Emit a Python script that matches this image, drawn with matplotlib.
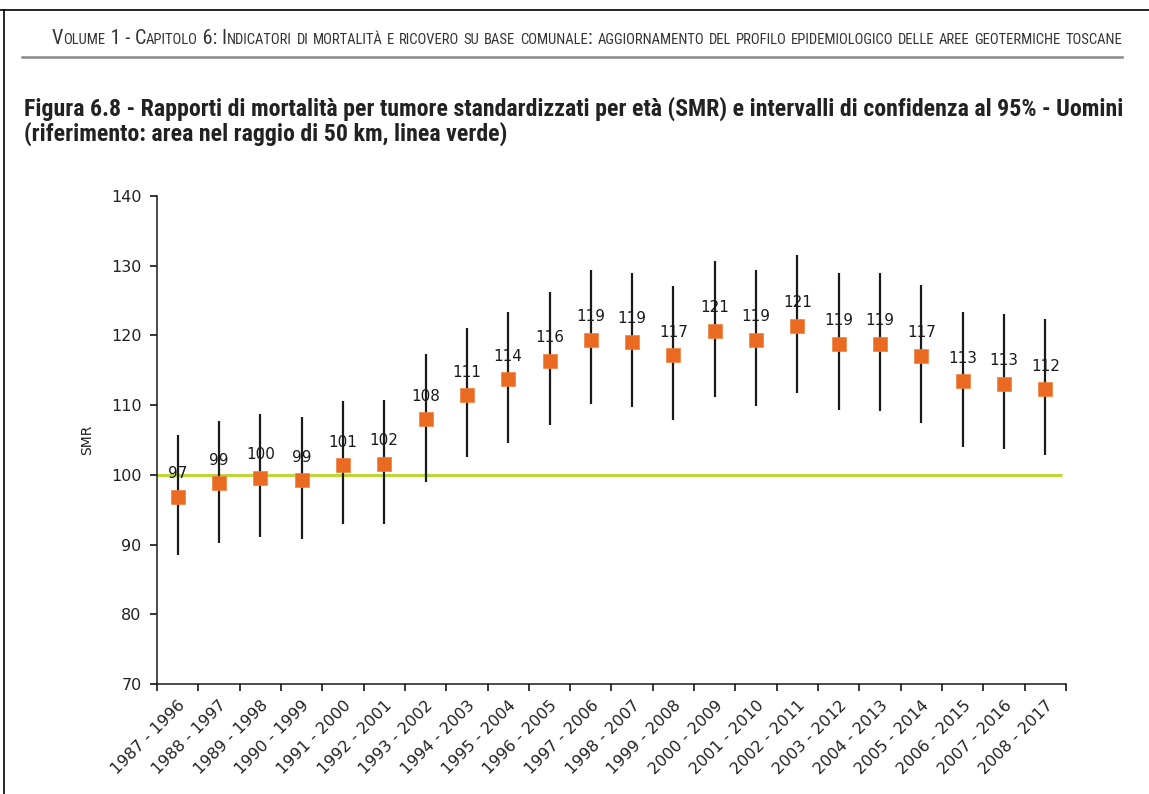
import matplotlib
matplotlib.use('Agg')
import matplotlib.pyplot as plt
import numpy as np
from matplotlib.offsetbox import TextArea, HPacker, AnchoredOffsetbox
from matplotlib.lines import Line2D
from matplotlib import font_manager

plt.rcParams['font.family'] = 'DejaVu Sans'
plt.rcParams['font.stretch'] = 'normal'

periods = ['1987 - 1996', '1988 - 1997', '1989 - 1998', '1990 - 1999', '1991 - 2000',
           '1992 - 2001', '1993 - 2002', '1994 - 2003', '1995 - 2004', '1996 - 2005',
           '1997 - 2006', '1998 - 2007', '1999 - 2008', '2000 - 2009', '2001 - 2010',
           '2002 - 2011', '2003 - 2012', '2004 - 2013', '2005 - 2014', '2006 - 2015',
           '2007 - 2016', '2008 - 2017']
smr = [96.9, 98.8, 99.6, 99.2, 101.4, 101.6, 108.0, 111.4, 113.7, 116.4, 119.4,
       119.1, 117.2, 120.7, 119.4, 121.4, 118.8, 118.8, 117.1, 113.4, 113.1, 112.3]
ci_low = [88.5, 90.3, 91.1, 90.8, 92.9, 93.0, 99.0, 102.5, 104.6, 107.2, 110.1,
          109.7, 107.9, 111.2, 109.9, 111.8, 109.3, 109.2, 107.5, 104.0, 103.7, 102.8]
ci_high = [105.7, 107.8, 108.7, 108.3, 110.6, 110.7, 117.4, 121.0, 123.4, 126.2, 129.4,
           129.0, 127.1, 130.7, 129.4, 131.6, 129.0, 129.0, 127.3, 123.4, 123.1, 122.3]
reference = 100

header = ("Volume 1 - Capitolo 6: Indicatori di mortalità e ricovero su base comunale: "
          "aggiornamento del profilo epidemiologico delle aree geotermiche toscane")
title = ("Figura 6.8 - Rapporti di mortalità per tumore standardizzati per età (SMR) e intervalli "
         "di confidenza al 95% - Uomini\n(riferimento: area nel raggio di 50 km, linea verde)")

# condensed face if there is one
names = set(f.name for f in font_manager.fontManager.ttflist)
narrow = 'DejaVu Sans'
for cand in ['Liberation Sans Narrow', 'Roboto Condensed', 'Open Sans Condensed', 'DejaVu Sans Condensed']:
    if cand in names:
        narrow = cand
        break

fig = plt.figure(figsize=(11.49, 7.94), dpi=100)
ax = fig.add_axes([0.1366, 0.1385, 0.7912, 0.6146])

x = np.arange(len(smr))
yerr = [np.array(smr) - np.array(ci_low), np.array(ci_high) - np.array(smr)]
ax.hlines(reference, -0.5, 21.4, color='#BED637', linewidth=2.2, zorder=1)
ax.errorbar(x, smr, yerr=yerr, fmt='none', ecolor='#1a1a1a', elinewidth=1.6, capsize=0, zorder=2)
ax.plot(x, smr, 's', color='#EB6A22', markersize=9.5, markeredgecolor='#F08040',
        markeredgewidth=0.5, linestyle='none', zorder=3)
for xi, v in zip(x, smr):
    ax.annotate(f"{v:.0f}", (xi, v), xytext=(0, 16.5), textcoords='offset points',
                ha='center', va='center', fontsize=11, color='#1a1a1a', zorder=4)

ax.set_xlim(-0.5, len(smr) - 0.5)
ax.set_ylim(70, 140)
ax.set_yticks(range(70, 141, 10))
ax.set_xticks(np.arange(-0.5, len(smr), 1))
ax.set_xticklabels([])
ax.set_xticks(x, minor=True)
ax.set_xticklabels(periods, minor=True, rotation=45, ha='right', rotation_mode='anchor',
                   fontsize=11.5, color='#222222')
ax.tick_params(axis='x', which='minor', length=0, pad=10)
ax.tick_params(axis='x', which='major', length=5, width=1.1, direction='out')
ax.tick_params(axis='y', length=5, width=1.1, direction='out', labelsize=11.5, pad=6,
               labelcolor='#222222')
for s in ['top', 'right']:
    ax.spines[s].set_visible(False)
for s in ['left', 'bottom']:
    ax.spines[s].set_linewidth(1.1)
    ax.spines[s].set_color('#1a1a1a')
ax.set_ylabel('SMR', fontsize=10, labelpad=12, color='#222222')

# small-caps header
runs = []
for ch in header:
    big = not ch.islower()
    txt = ch.upper()
    if runs and runs[-1][1] == big:
        runs[-1][0] += txt
    else:
        runs.append([txt, big])
boxes = [TextArea(t, textprops=dict(fontsize=14.6 if b else 10.5, family=narrow,
                                    fontstretch='condensed', color='#333333'))
         for t, b in runs]
pack = HPacker(children=boxes, align='baseline', pad=0, sep=0)
anch = AnchoredOffsetbox(loc='center right', child=pack, frameon=False,
                         bbox_to_anchor=(1122 / 1149, 1 - 38 / 794), bbox_transform=fig.transFigure,
                         borderpad=0, pad=0)
fig.add_artist(anch)

fig.add_artist(Line2D([22 / 1149, 1122 / 1149], [1 - 57 / 794] * 2, color='#888888', linewidth=1.8))
fig.add_artist(Line2D([0, 1], [1 - 10 / 794] * 2, color='black', linewidth=1.2))
fig.add_artist(Line2D([4 / 1149] * 2, [0, 1 - 10 / 794], color='black', linewidth=1.2))

fig.text(24 / 1149, 1 - 97 / 794, title, fontsize=17.2, fontweight='bold', family=narrow,
         fontstretch='condensed', color='#222222', ha='left', va='top', linespacing=1.0)

fig.savefig('out.png', dpi=100)
